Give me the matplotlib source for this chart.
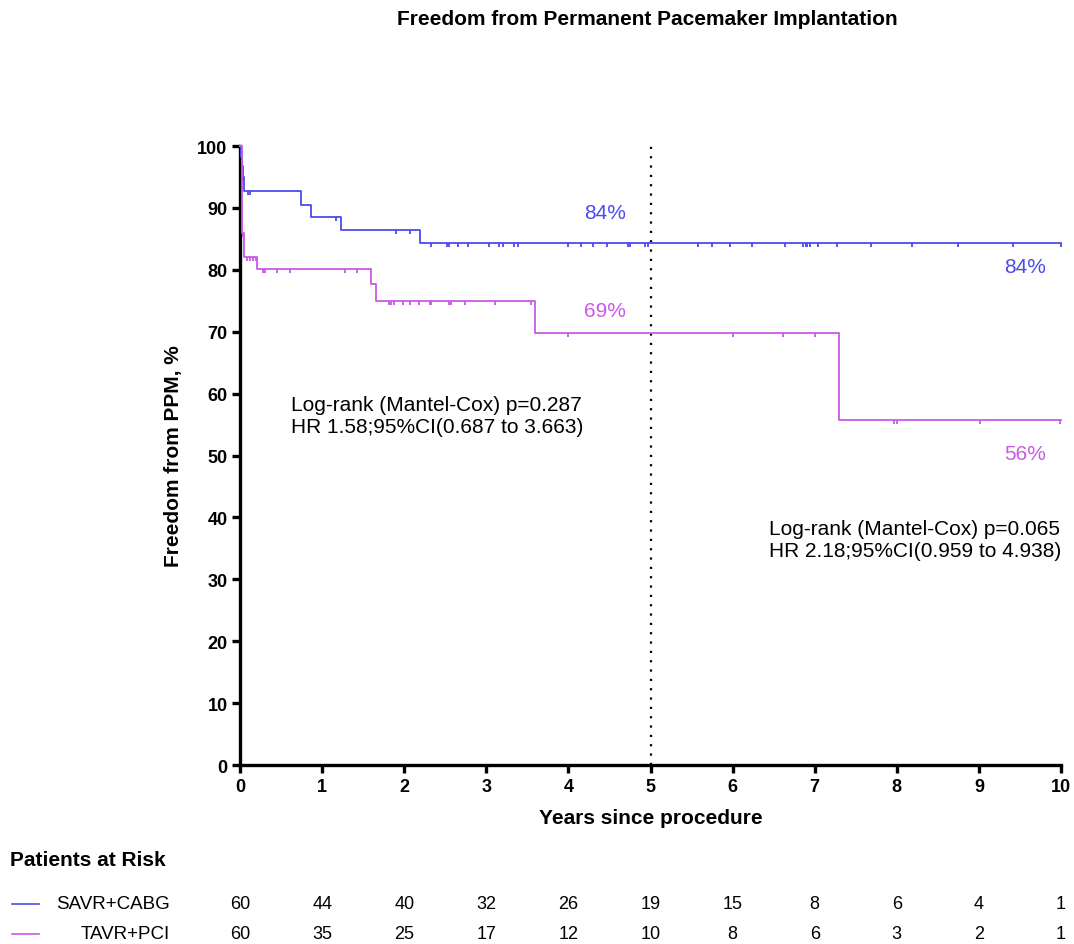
import numpy as np
import matplotlib
matplotlib.use('Agg')
import matplotlib.pyplot as plt
from matplotlib import markers
from matplotlib.transforms import blended_transform_factory

plt.rcParams['font.family'] = ['Liberation Sans', 'DejaVu Sans']

BLUE = '#4B4BF0'
PINK = '#C85AE8'

# Kaplan-Meier steps (years, % free from PPM)
savr_t = [0.0, 0.01, 0.02, 0.03, 0.05, 0.74, 0.87, 1.23, 2.19, 10.0]
savr_s = [100.0, 98.3, 96.7, 95.0, 92.7, 90.5, 88.6, 86.5, 84.3, 84.3]
tavr_t = [0.0, 0.02, 0.05, 0.21, 1.60, 1.66, 3.59, 7.29, 10.0]
tavr_s = [100.0, 85.9, 82.1, 80.2, 77.7, 75.0, 69.8, 55.7, 55.7]

# censored observations
savr_cens = [0.03, 0.10, 0.12, 1.17, 1.90, 2.07, 2.32, 2.52, 2.54, 2.66, 2.78,
             3.03, 3.16, 3.20, 3.34, 3.39, 4.00, 4.15, 4.30, 4.47, 4.72, 4.75,
             4.93, 4.97, 5.58, 5.75, 5.97, 6.24, 6.64, 6.86, 6.89, 6.91, 6.94,
             7.04, 7.27, 7.69, 8.18, 8.75, 9.42, 10.0]
tavr_cens = [0.03, 0.08, 0.12, 0.16, 0.19, 0.28, 0.30, 0.45, 0.61, 1.28, 1.42,
             1.82, 1.84, 1.87, 1.99, 2.07, 2.18, 2.31, 2.32, 2.55, 2.57, 2.74,
             3.11, 3.55, 4.00, 6.00, 6.61, 7.00, 7.97, 8.00, 9.01, 9.99]

risk_years = list(range(0, 11))
savr_risk = [60, 44, 40, 32, 26, 19, 15, 8, 6, 4, 1]
tavr_risk = [60, 35, 25, 17, 12, 10, 8, 6, 3, 2, 1]


def surv_at(t, times, surv):
    idx = np.searchsorted(times, t, side='right') - 1
    return np.asarray(surv)[idx]


fig = plt.figure(figsize=(10.74, 9.45), dpi=100)
ax = fig.add_axes([0.2235, 0.1894, 0.7644, 0.6550])

for t, s, cens, col in [(savr_t, savr_s, savr_cens, BLUE),
                        (tavr_t, tavr_s, tavr_cens, PINK)]:
    ax.step(t, s, where='post', color=col, lw=1.3, clip_on=False, zorder=3)
    # censor marks hang below the curve
    ax.plot(cens, surv_at(cens, t, s), ls='none', marker=markers.TICKDOWN,
            ms=3, mew=1.3, color=col, clip_on=False, zorder=3)

ax.plot([5, 5], [0, 100], color='black', lw=1.6, ls=(0, (1, 3.2)), zorder=2)

ax.set_xlim(0, 10)
ax.set_ylim(0, 100)
ax.set_xticks(range(0, 11))
ax.set_yticks(range(0, 101, 10))
for side in ('top', 'right'):
    ax.spines[side].set_visible(False)
for side in ('left', 'bottom'):
    ax.spines[side].set_linewidth(2.4)
ax.tick_params(length=6, width=2.4, labelsize=13, pad=3)
for lab in ax.get_xticklabels() + ax.get_yticklabels():
    lab.set_fontweight('bold')

ax.set_xlabel('Years since procedure', fontsize=15, fontweight='bold', labelpad=10)
ax.set_ylabel('Freedom from PPM, %', fontsize=15, fontweight='bold', labelpad=10)

ax.text(4.45, 89.3, '84%', color=BLUE, fontsize=15, ha='center', va='center')
ax.text(9.56, 80.6, '84%', color=BLUE, fontsize=15, ha='center', va='center')
ax.text(4.45, 73.5, '69%', color=PINK, fontsize=15, ha='center', va='center')
ax.text(9.56, 50.4, '56%', color=PINK, fontsize=15, ha='center', va='center')

ax.text(0.62, 56.4, 'Log-rank (Mantel-Cox) p=0.287\nHR 1.58;95%CI(0.687 to 3.663)',
        fontsize=15, ha='left', va='center', linespacing=1.2)
ax.text(6.44, 36.5, 'Log-rank (Mantel-Cox) p=0.065\nHR 2.18;95%CI(0.959 to 4.938)',
        fontsize=15, ha='left', va='center', linespacing=1.2)

fig.text(0.603, 0.979, 'Freedom from Permanent Pacemaker Implantation',
         fontsize=15, fontweight='bold', ha='center', va='center')

# patients at risk table
fig.text(10 / 1074, 1 - 861 / 945, 'Patients at Risk', fontsize=15,
         fontweight='bold', ha='left', va='center')
tr = blended_transform_factory(ax.transData, fig.transFigure)
rows = [('SAVR+CABG', savr_risk, BLUE, 905), ('TAVR+PCI', tavr_risk, PINK, 935)]
for name, vals, col, ypx in rows:
    yf = 1 - ypx / 945
    fig.add_artist(plt.Line2D([12 / 1074, 39 / 1074], [yf, yf], color=col, lw=1.2))
    fig.text(170 / 1074, yf, name, fontsize=13.5, ha='right', va='center')
    for yr, v in zip(risk_years, vals):
        ax.text(yr, yf, str(v), fontsize=13, ha='center', va='center',
                transform=tr, clip_on=False)

fig.savefig('out.png', dpi=100)
